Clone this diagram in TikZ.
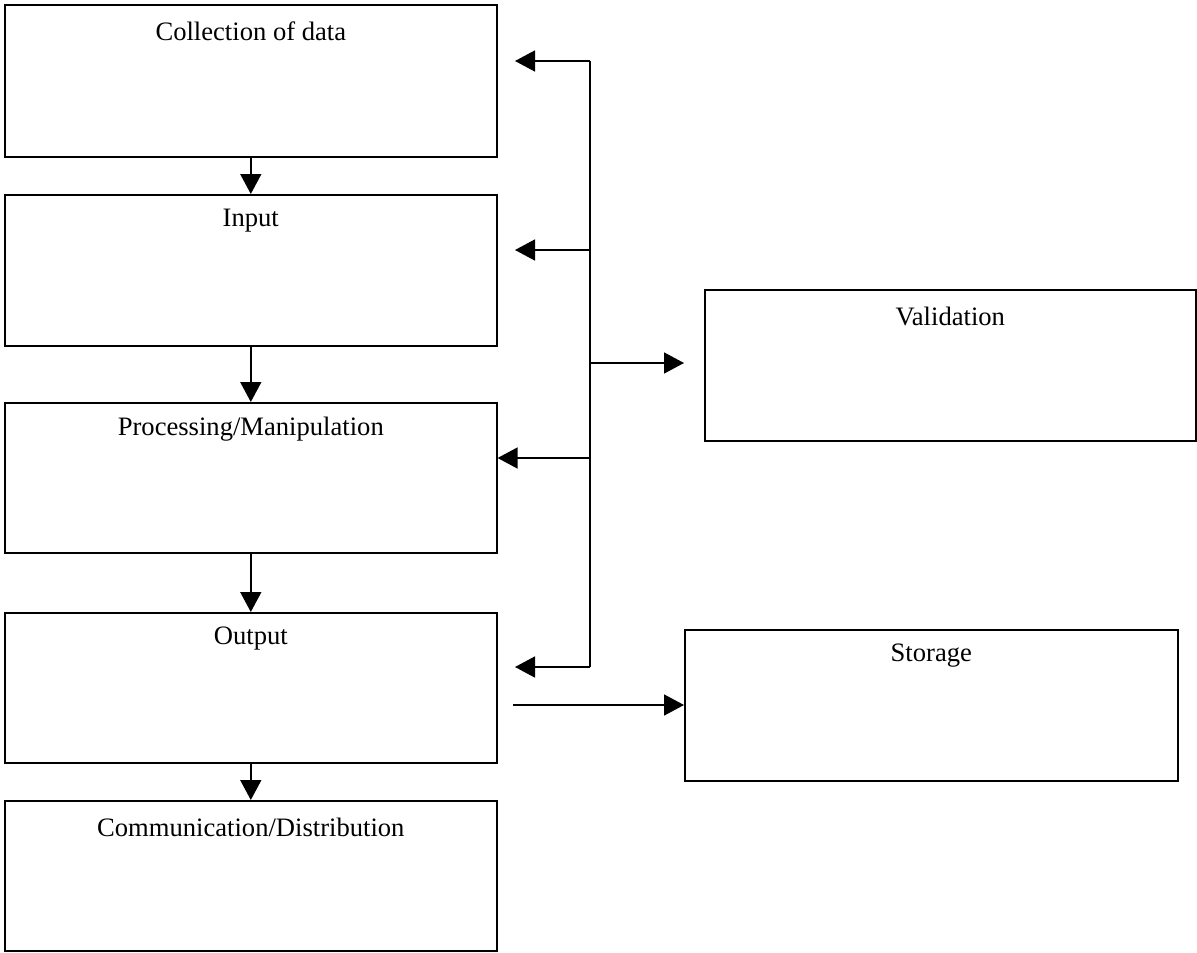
\documentclass[tikz,border=0pt]{standalone}
\usepackage{fontspec}
\setmainfont{Liberation Serif}
\usetikzlibrary{arrows.meta}
\begin{document}
\begin{tikzpicture}[x=1pt,y=-1pt,
  box/.style={draw, line width=1.6pt, rectangle, anchor=north west, inner sep=0pt},
  lbl/.style={font=\fontsize{26.6}{32}\selectfont},
  conn/.style={line width=1.6pt, -{Triangle[length=20pt,width=21pt]}},
  wire/.style={line width=1.6pt}]
\useasboundingbox (0,0) rectangle (1197,953);
\node[box, minimum width=492pt, minimum height=152pt,
  label={[lbl,anchor=center,yshift=-27pt]north:Collection of data}] (col) at (4,4) {};
\node[box, minimum width=492pt, minimum height=151pt,
  label={[lbl,anchor=center,yshift=-27pt]north:Input}] (inp) at (4,194) {};
\node[box, minimum width=492pt, minimum height=150pt,
  label={[lbl,anchor=center,yshift=-27pt]north:Processing/Manipulation}] (proc) at (4,402) {};
\node[box, minimum width=492pt, minimum height=150pt,
  label={[lbl,anchor=center,yshift=-27pt]north:Output}] (out) at (4,612) {};
\node[box, minimum width=492pt, minimum height=150pt,
  label={[lbl,anchor=center,yshift=-27pt]north:Communication/Distribution}] (comm) at (4,800) {};
\node[box, minimum width=491pt, minimum height=151pt,
  label={[lbl,anchor=center,yshift=-27pt]north:Validation}] (val) at (704,289) {};
\node[box, minimum width=493pt, minimum height=151pt,
  label={[lbl,anchor=center,yshift=-27pt]north:Storage}] (sto) at (684,629) {};
% vertical flow
\draw[conn] (col.south) -- (inp.north);
\draw[conn] (inp.south) -- (proc.north);
\draw[conn] (proc.south) -- (out.north);
\draw[conn] (out.south) -- (comm.north);
% bus
\coordinate (btop) at (590,61);
\coordinate (bin) at (590,250);
\coordinate (bval) at (590,363);
\coordinate (bproc) at (590,458);
\coordinate (bbot) at (590,667);
\coordinate (tcol) at (515,61);
\coordinate (tinp) at (515,250);
\coordinate (tout) at (515,667);
\coordinate (tval) at (684,363);
\coordinate (sout) at (513,705);
\draw[wire] (btop) -- (bbot);
\draw[conn] (btop) -- (tcol);
\draw[conn] (bin) -- (tinp);
\draw[conn] (bproc) -- (proc.east |- bproc);
\draw[conn] (bbot) -- (tout);
\draw[conn] (bval) -- (tval);
\draw[conn] (sout) -- (sto.west |- sout);
\end{tikzpicture}
\end{document}
